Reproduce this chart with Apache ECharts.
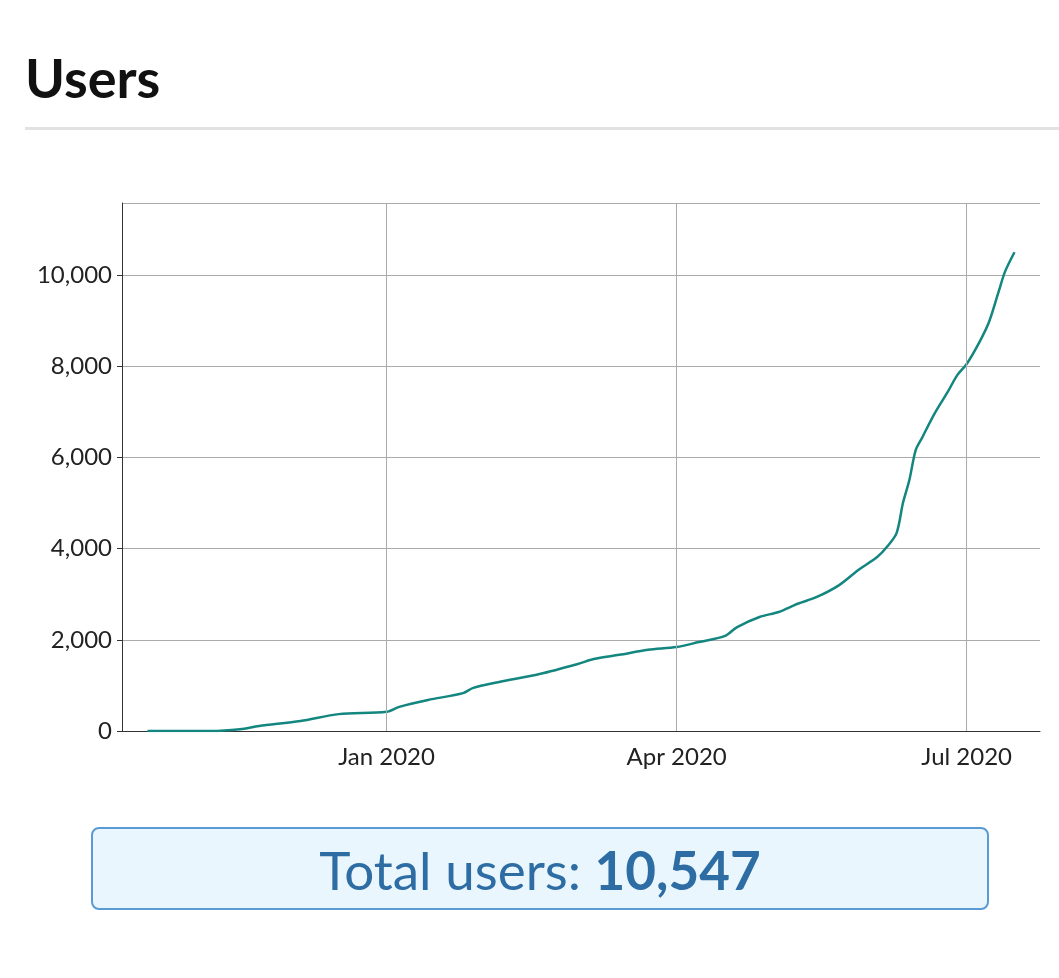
<!DOCTYPE html>
<html><head><meta charset="utf-8">
<script src="https://cdn.jsdelivr.net/npm/echarts@6/dist/echarts.min.js"></script>
<style>
body{margin:0;background:#fff;font-family:Lato,sans-serif;width:1059px;height:978px;position:relative;overflow:hidden}
h1{position:absolute;left:25px;top:45px;margin:0;font-size:54px;font-weight:700;color:#111}
.rule{position:absolute;left:25px;top:127px;width:1034px;height:3px;background:#e2e2e2}
#chart{position:absolute;left:0;top:0;width:1059px;height:800px}
.total{position:absolute;left:91px;top:827px;width:894px;height:79px;border:2px solid #5b9bd5;border-radius:8px;background:#eaf6fd;color:#2e6da4;font-size:53px;text-align:center;line-height:82px}
</style></head><body>
<h1>Users</h1><div class="rule"></div>
<div id="chart"></div>
<div class="total">Total users: <b>10,547</b></div>
<script>
// cumulative users
const dates = ['2019-10-18','2019-11-07','2019-11-16','2019-11-22','2019-12-05','2019-12-17','2020-01-01','2020-01-05','2020-01-14','2020-01-25','2020-01-28','2020-02-05','2020-02-18','2020-03-01','2020-03-06','2020-03-14','2020-03-23','2020-04-01','2020-04-08','2020-04-16','2020-04-20','2020-04-27','2020-05-03','2020-05-09','2020-05-15','2020-05-22','2020-05-28','2020-06-03','2020-06-06','2020-06-09','2020-06-11','2020-06-13','2020-06-15','2020-06-17','2020-06-21','2020-06-25','2020-06-28','2020-07-01','2020-07-05','2020-07-08','2020-07-11','2020-07-13','2020-07-16'];
const users = [0,0,40,110,220,370,420,530,680,830,940,1070,1250,1470,1580,1670,1780,1840,1950,2080,2280,2500,2610,2790,2940,3200,3530,3820,4040,4340,5000,5500,6160,6430,6970,7430,7800,8050,8530,8970,9630,10070,10500];
const tickDates = ['2020-01-01','2020-04-01','2020-07-01'];
const monthNames = ['Jan','Feb','Mar','Apr','May','Jun','Jul','Aug','Sep','Oct','Nov','Dec'];

const ts = s => new Date(s + 'T00:00:00Z').getTime();
const tickVals = tickDates.map(ts);

var chart = echarts.init(document.getElementById('chart'));
chart.setOption({
  animation:false,
  grid:{left:122,right:19,top:203,bottom:69},
  xAxis:{
    type:'value', min:ts('2019-10-10'), max:ts('2020-07-24'),
    axisLine:{lineStyle:{color:'#333'}},
    axisTick:{show:false},
    axisLabel:{customValues:tickVals, fontSize:24, color:'#222', fontFamily:'Lato', margin:14,
      formatter:v=>{const d=new Date(v);return monthNames[d.getUTCMonth()]+' '+d.getUTCFullYear();}},
    splitLine:{show:false}
  },
  yAxis:{
    type:'value', min:0, max:11580, interval:2000,
    axisLine:{show:true, lineStyle:{color:'#333'}},
    axisLabel:{fontSize:24, color:'#222', fontFamily:'Lato', showMaxLabel:false, margin:10},
    splitLine:{lineStyle:{color:'#aaa'}}
  },
  series:[{type:'line', showSymbol:false, smooth:0.3,
    data:dates.map((d,i)=>[ts(d),users[i]]),
    lineStyle:{color:'#13867f', width:2.5},
    markLine:{silent:true, symbol:'none', label:{show:false},
      lineStyle:{color:'#aaa', type:'solid', width:1},
      data:tickVals.map(v=>({xAxis:v}))}}]
});
</script></body></html>
